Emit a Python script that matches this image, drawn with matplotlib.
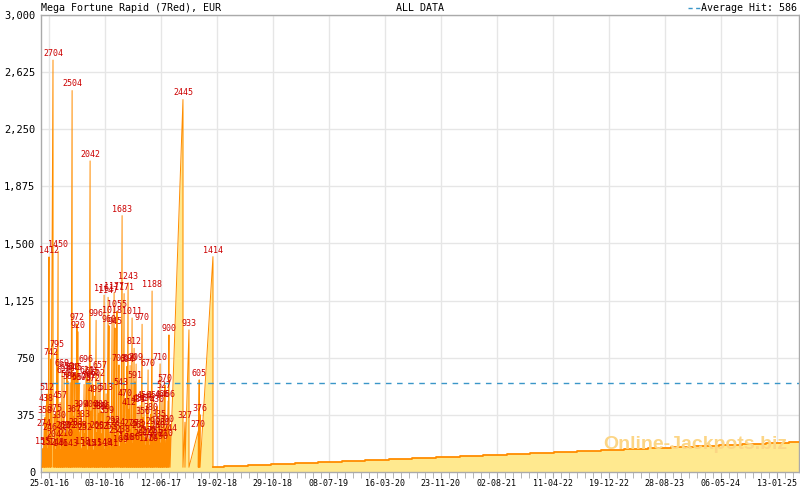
import matplotlib
matplotlib.use("Agg")
import matplotlib.pyplot as plt
from matplotlib.lines import Line2D
import pandas as pd

# jackpot hits: date and amount won (EUR)
hit_dates = [
    "2015-12-29", "2016-01-03", "2016-01-07", "2016-01-12", "2016-01-16", "2016-01-21",
    "2016-01-25", "2016-01-30", "2016-02-03", "2016-02-12", "2016-02-17", "2016-02-21",
    "2016-02-26", "2016-03-01", "2016-03-06", "2016-03-10", "2016-03-15", "2016-03-19",
    "2016-03-24", "2016-03-28", "2016-04-02", "2016-04-06", "2016-04-11", "2016-04-15",
    "2016-04-20", "2016-04-24", "2016-04-29", "2016-05-03", "2016-05-08", "2016-05-12",
    "2016-05-17", "2016-05-21", "2016-05-26", "2016-05-30", "2016-06-04", "2016-06-08",
    "2016-06-13", "2016-06-17", "2016-06-22", "2016-06-26", "2016-07-01", "2016-07-05",
    "2016-07-10", "2016-07-14", "2016-07-19", "2016-07-23", "2016-07-28", "2016-08-01",
    "2016-08-06", "2016-08-10", "2016-08-15", "2016-08-19", "2016-08-24", "2016-08-28",
    "2016-09-02", "2016-09-06", "2016-09-11", "2016-09-15", "2016-09-20", "2016-09-24",
    "2016-09-29", "2016-10-03", "2016-10-08", "2016-10-12", "2016-10-17", "2016-10-21",
    "2016-10-26", "2016-10-30", "2016-11-04", "2016-11-08", "2016-11-13", "2016-11-17",
    "2016-11-22", "2016-11-26", "2016-12-01", "2016-12-05", "2016-12-10", "2016-12-14",
    "2016-12-19", "2016-12-23", "2016-12-28", "2017-01-01", "2017-01-06", "2017-01-10",
    "2017-01-15", "2017-01-19", "2017-01-24", "2017-01-28", "2017-02-02", "2017-02-06",
    "2017-02-11", "2017-02-15", "2017-02-20", "2017-02-24", "2017-03-01", "2017-03-05",
    "2017-03-10", "2017-03-14", "2017-03-19", "2017-03-23", "2017-03-28", "2017-04-01",
    "2017-04-06", "2017-04-10", "2017-04-15", "2017-04-19", "2017-04-24", "2017-04-28",
    "2017-05-03", "2017-05-07", "2017-05-12", "2017-05-16", "2017-05-21", "2017-05-25",
    "2017-05-30", "2017-06-03", "2017-06-08", "2017-06-12", "2017-06-17", "2017-06-21",
    "2017-06-26", "2017-06-30", "2017-07-05", "2017-07-09", "2017-07-14", "2017-07-18",
    "2017-07-23", "2017-09-19", "2017-09-28", "2017-10-16", "2017-11-27", "2017-12-01",
    "2017-12-05", "2018-02-01",
]
hit_values = [
    155, 274, 358, 438, 512, 152,
    1412, 246, 742, 2704, 204, 375,
    148, 795, 1450, 330, 457, 146,
    669, 263, 626, 257, 210, 650,
    596, 262, 586, 143, 2504, 640,
    367, 645, 283, 972, 920, 580,
    263, 399, 158, 333, 575, 252,
    696, 620, 145, 592, 2042, 400,
    615, 572, 145, 499, 996, 260,
    602, 386, 657, 400, 253, 386,
    1161, 148, 513, 359, 1147, 960,
    253, 141, 1018, 292, 1177, 945,
    231, 1055, 284, 703, 169, 543,
    1683, 238, 1171, 470, 186, 694,
    1243, 412, 699, 276, 1011, 186,
    812, 591, 709, 278, 431, 262,
    436, 207, 970, 356, 456, 227,
    176, 436, 670, 217, 176, 380,
    1188, 290, 456, 231, 207, 430,
    260, 335, 710, 190, 466, 280,
    527, 570, 210, 300, 466, 900,
    244, 2445, 327, 933, 270, 605,
    376, 1414,
]
series_start = "2015-12-25"
seed_value = 31

# after the last hit the jackpot only creeps up
tail_dates = [
    "2018-02-01", "2018-03-23", "2018-07-07", "2018-10-21", "2019-02-04", "2019-05-21",
    "2019-09-04", "2019-12-19", "2020-04-03", "2020-07-18", "2020-11-01", "2021-02-15",
    "2021-06-01", "2021-09-15", "2021-12-30", "2022-04-15", "2022-07-30", "2022-11-13",
    "2023-02-27", "2023-06-13", "2023-09-27", "2024-01-11", "2024-04-26", "2024-08-10",
    "2024-11-24", "2025-03-10",
]
tail_values = [31, 37, 44, 50, 57, 64, 70, 77, 83, 90, 97, 103, 110, 117, 123,
               130, 137, 143, 150, 157, 163, 170, 177, 183, 190, 197]
series_end = "2025-04-23"

average_hit = 586
xtick_labels = ["25-01-16", "03-10-16", "12-06-17", "19-02-18", "29-10-18", "08-07-19",
                "16-03-20", "23-11-20", "02-08-21", "11-04-22", "19-12-22", "28-08-23",
                "06-05-24", "13-01-25"]
ytick_values = [0, 375, 750, 1125, 1500, 1875, 2250, 2625, 3000]

ORANGE = "#ff8c00"
YELLOW = "#ffe98f"
RED = "#cc0000"
GRID = "#e6e6e6"
SPINE = "#aaaaaa"
BLUE = "#3a96c8"
mono = "DejaVu Sans Mono"

hd = pd.to_datetime(hit_dates)
td = pd.to_datetime(tail_dates)

# saw-tooth: rise from seed to the hit, then drop back to seed
xs = [pd.Timestamp(series_start)]
ys = [seed_value]
for d, v in zip(hd, hit_values):
    xs += [d, d]
    ys += [v, seed_value]

tx = list(td) + [pd.Timestamp(series_end)]
ty = tail_values + [tail_values[-1]]

fig = plt.figure(figsize=(8, 4.9), dpi=100)
ax = fig.add_axes([41 / 800, 1 - 472 / 490, 758 / 800, 457 / 490])

ax.fill_between(xs, ys, 0, color=YELLOW, lw=0, zorder=2)
ax.plot(xs, ys, color=ORANGE, lw=0.7, zorder=3)
ax.fill_between(tx, ty, 0, step="post", color=YELLOW, lw=0, zorder=2)
ax.step(tx, ty, where="post", color=ORANGE, lw=1.3, zorder=3)

ax.axhline(average_hit, color=BLUE, lw=1, ls=(0, (4, 4)), zorder=4)

for d, v in zip(hd, hit_values):
    ax.annotate(str(v), (d, v), xytext=(0, 1.5), textcoords="offset points",
                ha="center", va="bottom", color=RED, fontsize=6, family=mono, zorder=5)

ax.text(0.985, 0.06, "Online-Jackpots.biz", transform=ax.transAxes, ha="right", va="center",
        fontsize=14, fontweight="bold", family="Liberation Sans", color="#fcd585", zorder=4)

ax.set_xlim(pd.Timestamp(series_start), pd.Timestamp(series_end))
ax.set_ylim(0, 3000)
major = pd.to_datetime(xtick_labels, format="%d-%m-%y")
ax.set_xticks(major)
ax.set_xticklabels(xtick_labels)
minor = pd.date_range(major[0] - pd.Timedelta(days=36), pd.Timestamp(series_end), freq="36D")
ax.set_xticks(minor, minor=True)
ax.set_yticks(ytick_values)
ax.set_yticklabels([f"{v:,}" for v in ytick_values])

ax.grid(True, which="major", color=GRID, lw=1, zorder=0)
ax.set_axisbelow(True)
ax.tick_params(axis="x", which="both", length=4, color=SPINE, labelsize=6, pad=1)
ax.tick_params(axis="y", length=0, labelsize=7.5, pad=4)
for lab in ax.get_xticklabels() + ax.get_yticklabels():
    lab.set_family(mono)
for s in ax.spines.values():
    s.set_color(SPINE)
    s.set_linewidth(1)

fig.text(41 / 800, 1 - 8 / 490, "Mega Fortune Rapid (7Red), EUR", family=mono,
         fontsize=7.2, va="center", ha="left")
fig.text(420 / 800, 1 - 8 / 490, "ALL DATA", family=mono, fontsize=7.2, va="center", ha="center")
fig.text(797 / 800, 1 - 8 / 490, "Average Hit: 586", family=mono, fontsize=7.2,
         va="center", ha="right")
fig.add_artist(Line2D([688 / 800, 701 / 800], [1 - 8 / 490, 1 - 8 / 490], color=BLUE,
                      lw=1, ls=(0, (3, 2.5)), transform=fig.transFigure))

fig.savefig("out.png", dpi=100)
